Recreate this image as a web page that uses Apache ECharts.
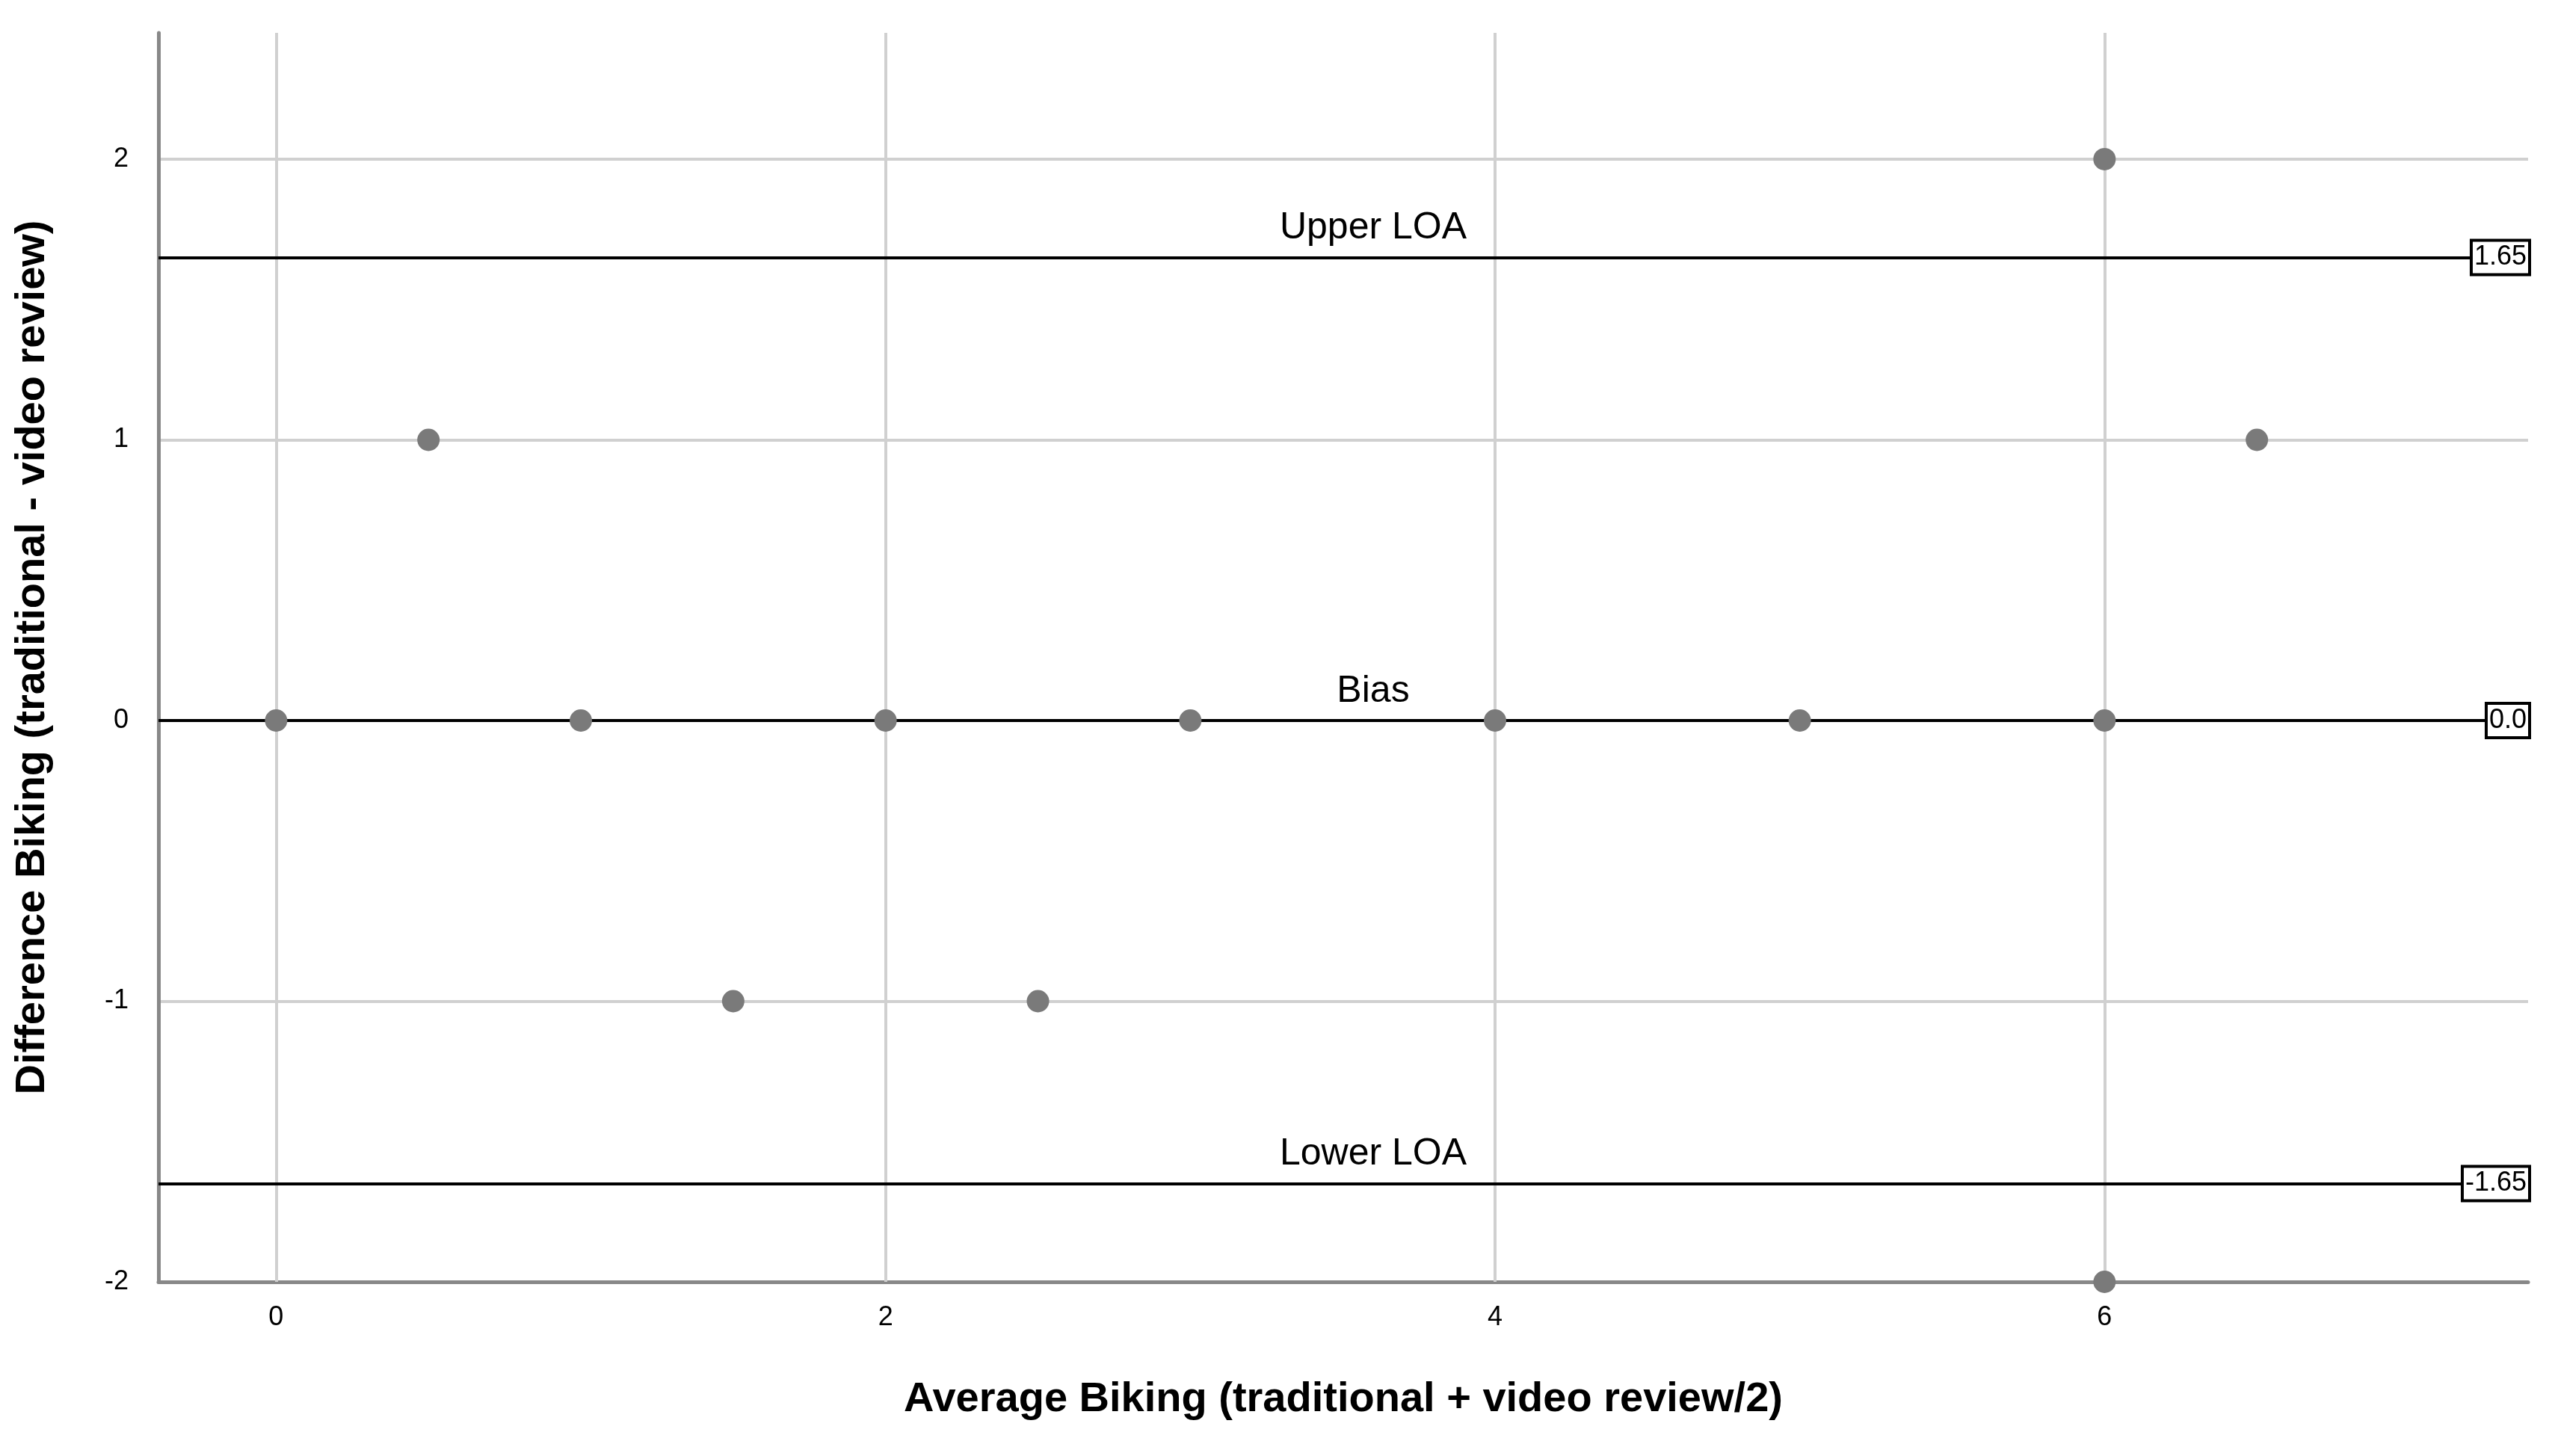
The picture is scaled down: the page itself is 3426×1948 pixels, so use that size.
<!DOCTYPE html>
<html>
<head>
<meta charset="utf-8">
<script src="https://cdn.jsdelivr.net/npm/echarts@6/dist/echarts.min.js"></script>
<style>html,body{margin:0;background:#fff}#main{width:3426px;height:1948px}</style>
</head>
<body>
<div id="main"></div>
<script>
var xTicks = [0, 2, 4, 6];
var pointsX = [0, 1, 2, 3, 4, 5, 6, 0.5, 6.5, 6, 1.5, 2.5, 6];
var pointsY = [0, 0, 0, 0, 0, 0, 0, 1, 1, 2, -1, -1, -2];
var refNames = ['Upper LOA', 'Bias', 'Lower LOA'];
var refValues = [1.65, 0, -1.65];
var refLabels = ['1.65', '0.0', '-1.65'];

var xMin = -0.386, xMax = 7.39;

var chart = echarts.init(document.getElementById('main'));
var font = 'Liberation Sans, Arial, sans-serif';

var scatterData = pointsX.map(function (x, i) { return [x, pointsY[i]]; });

chart.setOption({
  backgroundColor: '#fff',
  animation: false,
  grid: { left: 212, right: 44, top: 44, bottom: 233 },
  xAxis: {
    type: 'value', min: xMin, max: xMax,
    name: 'Average Biking (traditional + video review/2)',
    nameLocation: 'middle', nameGap: 130,
    nameTextStyle: { fontFamily: font, fontSize: 56, fontWeight: 'bold', color: '#000' },
    axisLine: { onZero: false, lineStyle: { color: '#888', width: 5 } },
    axisTick: { show: false },
    splitLine: { show: false },
    axisLabel: { customValues: xTicks, fontFamily: font, fontSize: 36, color: '#000', margin: 30 }
  },
  yAxis: {
    type: 'value', min: -2, max: 2.45, interval: 1,
    name: 'Difference Biking (traditional - video review)',
    nameLocation: 'middle', nameGap: 140,
    nameTextStyle: { fontFamily: font, fontSize: 56, fontWeight: 'bold', color: '#000' },
    axisLine: { show: true, onZero: false, lineStyle: { color: '#888', width: 5 } },
    axisTick: { show: false },
    splitLine: { showMaxLine: false, lineStyle: { color: '#d0d0d0', width: 4 } },
    axisLabel: { showMaxLabel: false, fontFamily: font, fontSize: 36, color: '#000', margin: 40 }
  },
  series: [
    {
      type: 'scatter',
      data: scatterData,
      symbolSize: 30,
      itemStyle: { color: '#7a7a7a', opacity: 1 },
      z: 5,
      markLine: {
        silent: true, symbol: 'none', z: 1,
        lineStyle: { color: '#d0d0d0', width: 4, type: 'solid' },
        label: { show: false },
        data: xTicks.map(function (v) { return { xAxis: v }; })
      }
    },
    {
      type: 'line',
      data: [],
      markLine: {
        silent: true, symbol: 'none', z: 3,
        lineStyle: { color: '#000', width: 4, type: 'solid' },
        label: {
          show: true, position: 'insideMiddleTop', formatter: '{b}',
          fontFamily: font, fontSize: 50, color: '#000', distance: 14, offset: [40, 0]
        },
        data: refValues.map(function (v, i) { return { name: refNames[i], yAxis: v }; })
      },
      markPoint: {
        silent: true, symbol: 'rect', symbolSize: 0, z: 6,
        label: {
          show: true, position: 'left', distance: 0,
          formatter: '{b}', fontFamily: font, fontSize: 36, color: '#000',
          backgroundColor: '#fff', borderColor: '#000', borderWidth: 4,
          padding: [4, 2, 2, 2]
        },
        data: refValues.map(function (v, i) { return { name: refLabels[i], coord: [xMax, v] }; })
      }
    }
  ]
});
</script>
</body>
</html>
